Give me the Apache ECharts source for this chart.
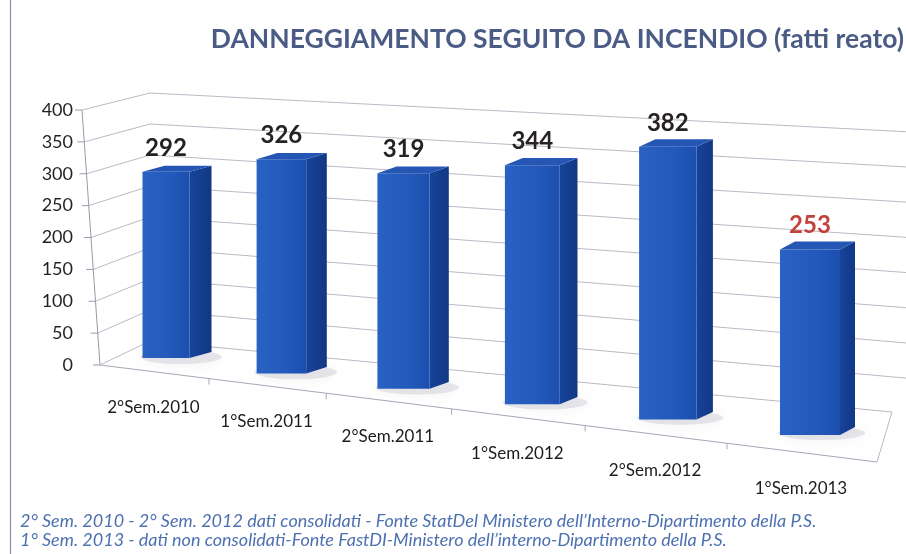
<!DOCTYPE html>
<html>
<head>
<meta charset="utf-8">
<script src="https://cdn.jsdelivr.net/npm/echarts@6/dist/echarts.min.js"></script>
<style>
  html, body { margin: 0; padding: 0; background: #ffffff; }
  #main { width: 906px; height: 554px; }
</style>
</head>
<body>
<div id="main"></div>
<script>
// ---------------- data ----------------
const categories = ['2°Sem.2010', '1°Sem.2011', '2°Sem.2011', '1°Sem.2012', '2°Sem.2012', '1°Sem.2013'];
const values = [292, 326, 319, 344, 382, 253];
const provisional = [false, false, false, false, false, true];
const yTicks = [0, 50, 100, 150, 200, 250, 300, 350, 400];
const titleText = 'DANNEGGIAMENTO SEGUITO DA INCENDIO (fatti reato)';
const footnotes = [
  '2° Sem. 2010 - 2° Sem. 2012 dati consolidati - Fonte StatDel Ministero dell\u2019Interno-Dipartimento della P.S.',
  '1° Sem. 2013 - dati non consolidati-Fonte FastDI-Ministero dell\u2019interno-Dipartimento della P.S.'
];

// ---------------- 3D-look scene layout (pseudo perspective) ----------------
const FONT = 'Lato, "Open Sans", "Noto Sans", sans-serif';
const scene = {
  frontLeft: [100, 365], frontRight: [877, 462],
  backLeft: [150, 341], backRight: [892, 412], wallEndX: 906,
  backLeftK: 0.9725, backRightK: 1.102, axisSlant: 18 / 255
};
const warpFloor = u => 0.81 * u + 0.19 * u * u;
const warpBar = t => 0.87 * t + 0.13 * t * t;
const yMax = yTicks[yTicks.length - 1];

function frame(api) {
  const c0 = api.coord([0, 0]);
  const bw = api.size([1, 0])[0];
  const left = c0[0] - bw / 2;
  return { baseY: c0[1], bw: bw, left: left, width: bw * categories.length };
}
function lerp(a, b, k) { return a + (b - a) * k; }

const chart = echarts.init(document.getElementById('main'));

const option = {
  backgroundColor: '#ffffff',
  animation: false,
  title: [
    {
      text: titleText, right: -3, top: 21,
      textStyle: { fontFamily: FONT, fontSize: 26.5, fontWeight: 'bold', color: '#4a5b85' }
    },
    {
      text: footnotes.join('\n'), left: 15, top: 507,
      textStyle: { fontFamily: FONT, fontSize: 18, fontStyle: 'italic', fontWeight: 'normal',
                   color: '#4d71b0', lineHeight: 19 }
    }
  ],
  graphic: [
    { type: 'line', shape: { x1: 10.5, y1: 0, x2: 10.5, y2: 554 },
      style: { stroke: '#8392b6', lineWidth: 1.2 }, silent: true }
  ],
  grid: { left: 91, right: 16, top: 110, bottom: 189 },
  xAxis: { type: 'category', data: categories, show: false },
  yAxis: {
    type: 'value', min: 0, max: yMax, interval: 50,
    axisLine: { show: false }, axisTick: { show: false }, splitLine: { show: false },
    axisLabel: { margin: 18, fontFamily: FONT, fontSize: 18, color: '#231f22' }
  },
  series: [
    // walls (gridlines on side wall + back wall) with axis ticks
    {
      type: 'custom', silent: true, z: 1,
      data: yTicks.map(v => [0, v]),
      encode: { x: 0, y: 1 },
      renderItem: function (params, api) {
        const fr = frame(api);
        const v = api.value(1);
        const lift = fr.baseY - api.coord([0, v])[1];
        const ax = scene.frontLeft[0] - scene.axisSlant * lift;
        const ay = fr.baseY - lift;
        const bl = [scene.backLeft[0], scene.backLeft[1] - scene.backLeftK * lift];
        const br = [scene.backRight[0], scene.backRight[1] - scene.backRightK * lift];
        let end = br;
        if (v !== 0) {
          const slope = (br[1] - bl[1]) / (br[0] - bl[0]);
          end = [scene.wallEndX, bl[1] + slope * (scene.wallEndX - bl[0])];
        }
        return {
          type: 'group',
          children: [
            { type: 'polyline', shape: { points: [[ax, ay], bl, end] },
              style: { stroke: '#bdb8c6', lineWidth: 1, fill: null } },
            { type: 'line', shape: { x1: ax - 7, y1: ay, x2: ax, y2: ay },
              style: { stroke: '#9c9aaa', lineWidth: 1 } }
          ]
        };
      }
    },
    // floor outline + axis line + category ticks
    {
      type: 'custom', silent: true, z: 1,
      data: [[0, 0]],
      encode: { x: 0, y: 1 },
      renderItem: function (params, api) {
        const fr = frame(api);
        const top = fr.baseY - api.coord([0, yMax])[1];
        const FL = scene.frontLeft, FR = scene.frontRight;
        const kids = [
          { type: 'line', shape: { x1: FL[0], y1: fr.baseY, x2: FL[0] - scene.axisSlant * top, y2: fr.baseY - top },
            style: { stroke: '#9c9aaa', lineWidth: 1 } },
          { type: 'line', shape: { x1: FL[0], y1: FL[1], x2: FR[0], y2: FR[1] },
            style: { stroke: '#a9a6b6', lineWidth: 1 } },
          { type: 'line', shape: { x1: FR[0], y1: FR[1], x2: scene.backRight[0], y2: scene.backRight[1] },
            style: { stroke: '#bdb8c6', lineWidth: 1 } }
        ];
        for (let k = 1; k < categories.length; k++) {
          const g = warpFloor(k / categories.length);
          const x = lerp(FL[0], FR[0], g), y = lerp(FL[1], FR[1], g);
          kids.push({ type: 'line', shape: { x1: x, y1: y, x2: x, y2: y + 6 },
                      style: { stroke: '#a9a6b6', lineWidth: 1 } });
        }
        return { type: 'group', children: kids };
      }
    },
    // category labels along the front floor edge
    {
      type: 'custom', silent: true, z: 3,
      data: categories.map((c, i) => [i, 0]),
      encode: { x: 0, y: 1 },
      renderItem: function (params, api) {
        const fr = frame(api);
        const i = api.value(0);
        const xl = api.coord([i, 0])[0];
        const u = (xl - fr.left) / fr.width;
        const g = warpFloor(u);
        const FL = scene.frontLeft, FR = scene.frontRight;
        const x = lerp(FL[0], FR[0], g), y = lerp(FL[1], FR[1], g) + 36;
        return {
          type: 'text',
          style: { text: categories[i], x: x, y: y, align: 'center', verticalAlign: 'middle',
                   font: '17px ' + FONT, fill: '#1e1a1d' }
        };
      }
    },
    // 3D-look bars
    {
      type: 'custom', z: 5,
      data: values.map((v, i) => [i, v]),
      encode: { x: 0, y: 1 },
      renderItem: function (params, api) {
        const fr = frame(api);
        const i = api.value(0), v = api.value(1);
        const xl = api.coord([i, v])[0];
        const xFirst = fr.left + fr.bw / 2, xLast = fr.left + fr.width - fr.bw / 2;
        const t = (xl - xFirst) / (xLast - xFirst);
        const lift = fr.baseY - api.coord([i, v])[1];
        const cx = 166 + 644 * warpBar(t);
        const base = 358 + 77 * t;
        const h = lift * (1 + 0.15 * t);
        const w = 47 + 13 * t;
        const dx = 22 - 7 * t, dy = -(6 + 2 * t);
        const L = cx - w / 2, R = cx + w / 2, T = base - h;
        return {
          type: 'group',
          children: [
            { type: 'ellipse', shape: { cx: cx + dx / 2 + 4, cy: base + dy / 2 + 2, rx: w / 2 + dx / 2 + 6, ry: 7 },
              style: { fill: 'rgba(120,120,140,0.16)', shadowBlur: 14, shadowColor: 'rgba(110,110,130,0.55)' } },
            { type: 'polygon', shape: { points: [[R, base], [R, T], [R + dx, T + dy], [R + dx, base + dy]] },
              style: { fill: new echarts.graphic.LinearGradient(0, 0, 1, 0, [
                { offset: 0, color: '#17439a' }, { offset: 1, color: '#123884' }]) } },
            { type: 'rect', shape: { x: L, y: T, width: w, height: h },
              style: { fill: new echarts.graphic.LinearGradient(0, 0, 1, 0, [
                { offset: 0, color: '#2a62c4' }, { offset: 0.6, color: '#2259bb' }, { offset: 1, color: '#1c4fae' }]) } },
            { type: 'polygon', shape: { points: [[L, T], [R, T], [R + dx, T + dy], [L + dx, T + dy]] },
              style: { fill: '#2556b4' } },
            { type: 'text',
              style: { text: String(v), x: cx, y: T - 24, align: 'center', verticalAlign: 'middle',
                       font: 'bold 24px ' + FONT, fill: provisional[i] ? '#c2413a' : '#262224' } }
          ]
        };
      }
    }
  ]
};
chart.setOption(option);
</script>
</body>
</html>
